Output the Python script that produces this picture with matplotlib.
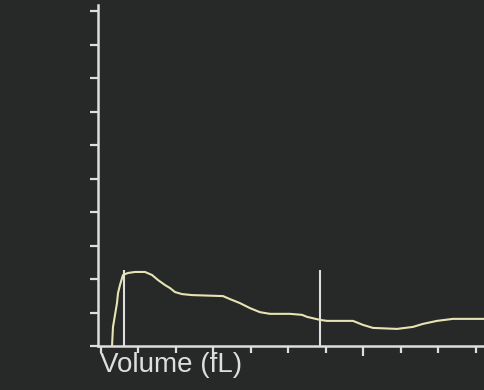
import matplotlib
matplotlib.use("Agg")
import matplotlib.pyplot as plt
import numpy as np

# Volume histogram (fL)
volume_fl = [1.47, 1.6, 2.13, 2.27, 2.53, 2.93, 3.6, 4.53, 5.87, 6.8, 7.6, 8.53, 9.2, 9.87,
             10.8, 12.13, 16.27, 17.2, 18.53, 19.87, 21.2, 22.53, 25.2, 26.8, 27.47, 29.2,
             30.13, 33.6, 34.93, 36.27, 39.47, 41.6, 42.93, 44.8, 46.93, 52.0]
counts = [0.0, 5.7, 12.8, 15.8, 18.2, 21.2, 21.8, 22.1, 22.1, 21.2, 19.7, 18.2, 17.3, 16.1,
          15.5, 15.2, 14.9, 14.0, 12.8, 11.3, 10.1, 9.6, 9.6, 9.3, 8.7, 7.8,
          7.5, 7.5, 6.3, 5.4, 5.1, 5.7, 6.6, 7.5, 8.1, 8.1]
discriminators = [3.07, 29.2]
discriminator_height = 22.7
x_major_ticks = [15, 35]
x_minor_ticks = [0, 5, 10, 20, 25, 30, 40, 45, 50]
y_ticks = list(range(0, 101, 10))
x_label = "Volume (fL)"

bg = "#262927"
axis_col = "#dedede"
curve_col = "#e6e4b4"

W, H = 484, 390
fig = plt.figure(figsize=(W / 100, H / 100), dpi=100, facecolor=bg)
ax = fig.add_axes([98 / W, (H - 346) / H, (W - 98) / W, (346 - 5) / H])
ax.set_facecolor(bg)
ax.set_xlim(-0.4, 51.07)
ax.set_ylim(0, 101.8)

for s in ["top", "right"]:
    ax.spines[s].set_visible(False)
for s in ["left", "bottom"]:
    ax.spines[s].set_color(axis_col)
    ax.spines[s].set_linewidth(1.8)

ax.set_yticks(y_ticks)
ax.set_xticks(x_major_ticks)
ax.set_xticks(x_minor_ticks, minor=True)
ax.tick_params(axis="y", direction="out", length=6, width=1.6, color=axis_col, labelleft=False)
ax.tick_params(axis="x", which="major", direction="out", length=7, width=1.6, color=axis_col, labelbottom=False)
ax.tick_params(axis="x", which="minor", direction="out", length=5, width=1.6, color=axis_col, labelbottom=False)

ax.vlines(discriminators, 0, discriminator_height, color=axis_col, linewidth=1.5)
ax.plot(volume_fl, counts, color=curve_col, linewidth=1.5, solid_joinstyle="round")

fig.text(100 / W, 1 - 372 / H, x_label, color=axis_col, fontsize=20,
         family=["Liberation Sans", "DejaVu Sans"], va="baseline", ha="left")

fig.savefig("out.png", dpi=100, facecolor=bg)
